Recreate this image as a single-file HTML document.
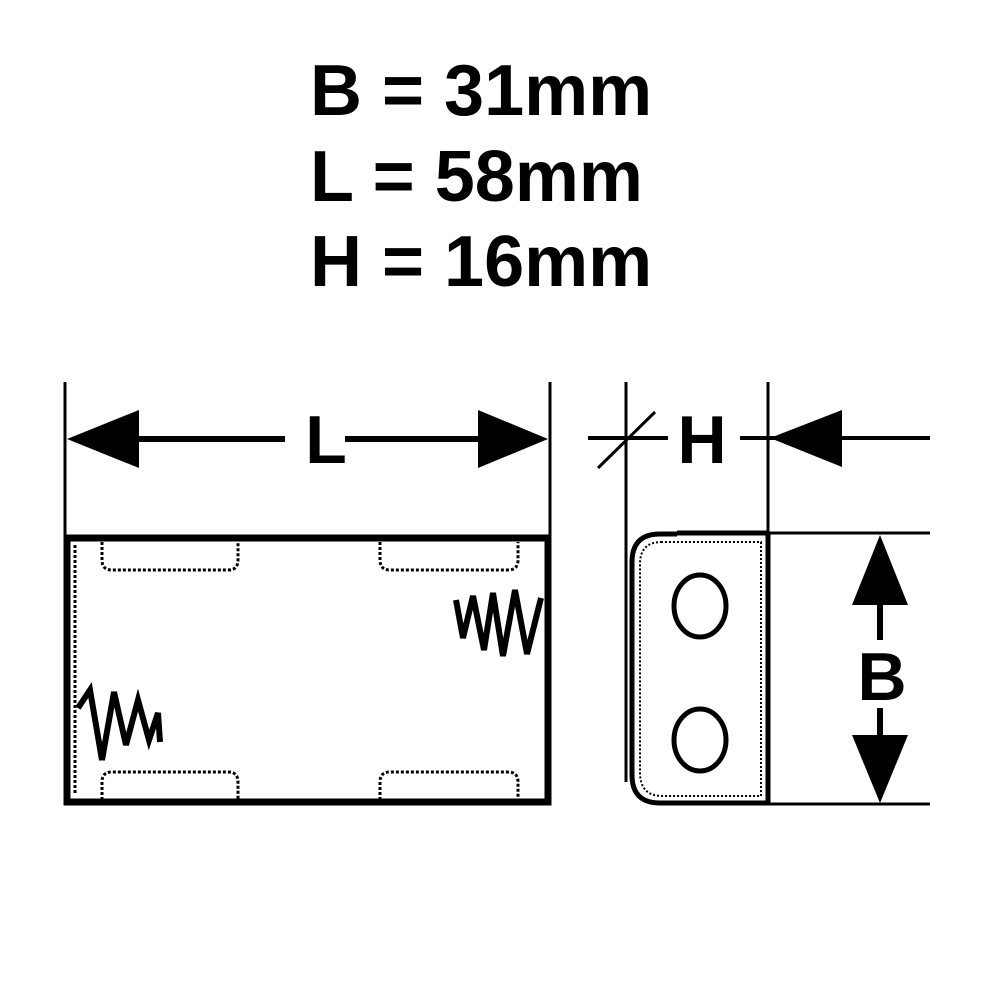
<!DOCTYPE html>
<html><head><meta charset="utf-8"><style>html,body{margin:0;padding:0;background:#fff}svg{display:block}</style></head>
<body>
<svg width="1000" height="1000" viewBox="0 0 1000 1000" xmlns="http://www.w3.org/2000/svg">
<rect width="1000" height="1000" fill="#fff"/>
<g font-family="Liberation Sans, sans-serif" font-weight="bold" font-size="72" fill="#000">
<text x="310" y="115">B = 31mm</text>
<text x="310" y="201">L = 58mm</text>
<text x="310" y="286">H = 16mm</text>
</g>
<g stroke="#000" fill="none">
<line x1="65" y1="382" x2="65" y2="535" stroke-width="3"/>
<line x1="550" y1="382" x2="550" y2="535" stroke-width="3"/>
<line x1="130" y1="439" x2="285" y2="439" stroke-width="6"/>
<line x1="345" y1="439" x2="485" y2="439" stroke-width="6"/>
<rect x="67" y="538" width="481" height="264" stroke-width="7"/>
<g stroke-width="3" stroke-dasharray="3,2">
<path d="M102 542 v18 q0 10 10 10 h116 q10 0 10 -10 v-18"/>
<path d="M380 542 v18 q0 10 10 10 h118 q10 0 10 -10 v-18"/>
<path d="M102 800 v-18 q0 -10 10 -10 h116 q10 0 10 10 v18"/>
<path d="M380 800 v-18 q0 -10 10 -10 h118 q10 0 10 10 v18"/>
<line x1="75" y1="545" x2="75" y2="795"/>
</g>
<polyline points="456,600 463,638 473,596 484,650 493,593 503,656 515,590 527,654 541,598" stroke-width="6"/>
<polyline points="78,708 90,690 102,760 114,692 126,745 138,700 149,740 158,713 160,742" stroke-width="6"/>
<line x1="626" y1="382" x2="626" y2="782" stroke-width="3"/>
<line x1="768" y1="382" x2="768" y2="805" stroke-width="3"/>
<line x1="588" y1="438" x2="668" y2="438" stroke-width="4"/>
<line x1="598" y1="468" x2="655" y2="412" stroke-width="3"/>
<line x1="740" y1="438" x2="930" y2="438" stroke-width="4"/>
<line x1="677" y1="533" x2="768" y2="533" stroke-width="5"/>
<line x1="768" y1="533" x2="930" y2="533" stroke-width="3"/>
<line x1="670" y1="804" x2="930" y2="804" stroke-width="3"/>
<path d="M677 534 H660 Q632 534 632 562 V775 Q632 803 660 803 H768 V534" stroke-width="5"/>
<path d="M662 542 Q640 542 640 564 V772 Q640 796 662 796 H761 V542 Z" stroke-width="2" stroke-dasharray="2,2"/>
<ellipse cx="700" cy="606" rx="26" ry="31" stroke-width="5"/>
<ellipse cx="700" cy="740" rx="26" ry="31" stroke-width="5"/>
<line x1="880" y1="600" x2="880" y2="640" stroke-width="6"/>
<line x1="880" y1="708" x2="880" y2="740" stroke-width="6"/>
</g>
<g fill="#000">
<polygon points="67,439 139,410 139,468"/>
<polygon points="548,439 478,410 478,468"/>
<polygon points="770,438 842,410 842,467"/>
<polygon points="880,535 852,605 908,605"/>
<polygon points="880,803 852,735 908,735"/>
</g>
<g font-family="Liberation Sans, sans-serif" font-weight="bold" font-size="68" fill="#000" text-anchor="middle">
<text x="326" y="463">L</text>
<text x="702" y="463">H</text>
<text x="882" y="700">B</text>
</g>
</svg>
</body></html>
